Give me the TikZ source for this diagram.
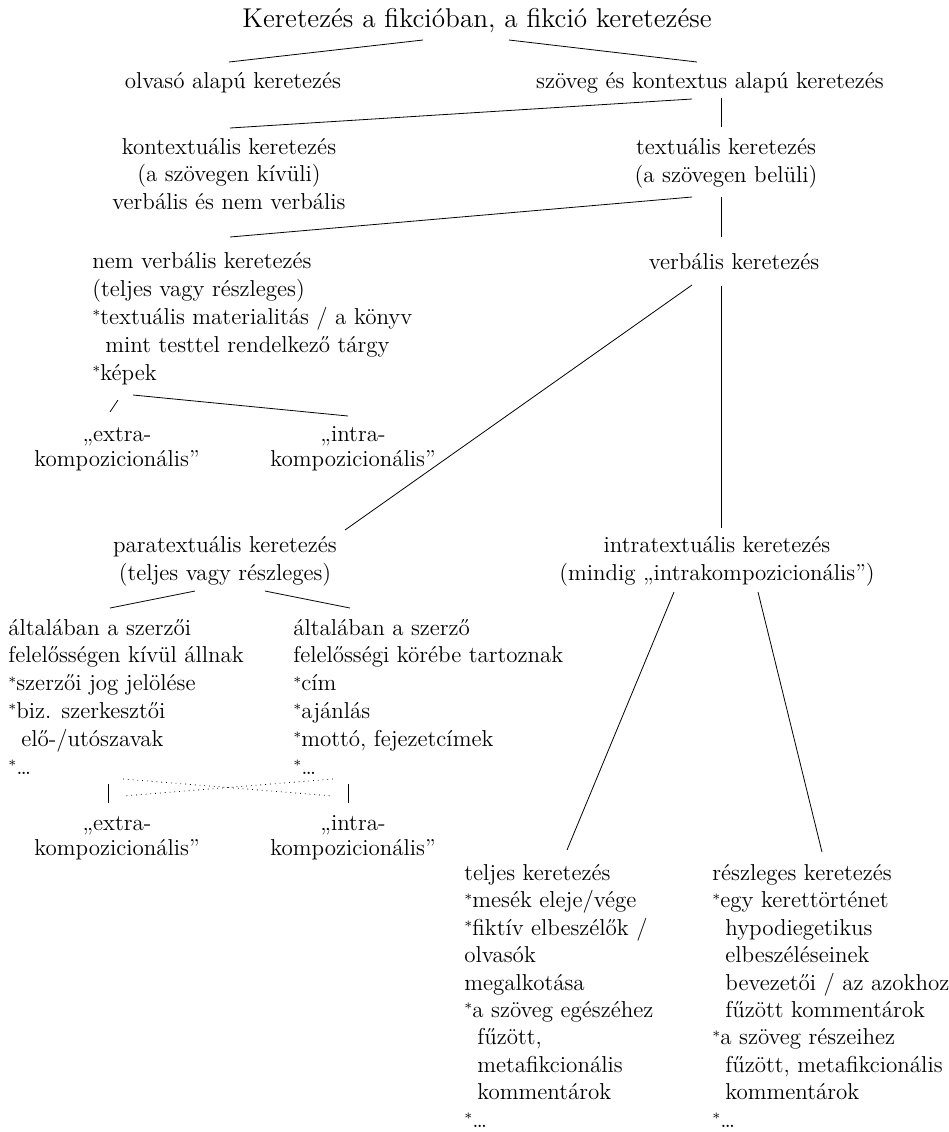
\documentclass[tikz,border=0pt]{standalone}
\usepackage{fontspec}
\usepackage{tikz}
\newcommand{\csill}{\raisebox{.35ex}{\scriptsize*}}
\newcommand{\behuz}{\hspace*{6.5pt}}
\tikzset{
  every node/.style={
    inner sep=0pt,
    font=\fontsize{11.5}{13.9}\selectfont
  },
  kozep/.style={align=center, anchor=base},
  bal/.style={align=left, anchor=base west},
  ketsor/.style={align=center, anchor=base, font=\fontsize{11.5}{12.4}\selectfont},
  hosszu/.style={bal, font=\fontsize{11.5}{13.7}\selectfont},
  line width=0.6pt
}

\begin{document}
\begin{tikzpicture}[x=0.5pt, y=-0.5pt]
    \useasboundingbox (0,0) rectangle (949,1132);

    \node[anchor=base, font=\fontsize{13.6}{16}\selectfont] (cim) at (477,27) {Keretezés a fikcióban, a fikció keretezése};
    \node[anchor=base] (olvaso) at (233,88) {olvasó alapú keretezés};
    \node[anchor=base] (szoveg) at (710,88) {szöveg és kontextus alapú keretezés};
    \node[kozep] (kontext) at (229,209.6) {kontextuális keretezés\\(a szövegen kívüli)\\verbális és nem verbális};
    \node[kozep] (textual) at (726,182) {textuális keretezés\\(a szövegen belüli)};
    \node[bal] (nemverb) at (92,380) {nem verbális keretezés\\(teljes vagy részleges)\\\csill textuális materialitás / a könyv\\\behuz mint testtel rendelkező tárgy\\\csill képek};
    \node[anchor=base] (verbalis) at (734,269) {verbális keretezés};
    \node[ketsor] (extraA) at (117,466) {„extra-\\kompozicionális”};
    \node[ketsor] (intraA) at (353,466) {„intra-\\kompozicionális”};
    \node[kozep] (para) at (225,580) {paratextuális keretezés\\(teljes vagy részleges)};
    \node[kozep] (intrat) at (717,580) {intratextuális keretezés\\(mindig „intrakompozicionális”)};
    \node[bal] (kivul) at (8,774) {általában a szerzői\\felelősségen kívül állnak\\\csill szerzői jog jelölése\\\csill biz. szerkesztői\\\behuz elő-/utószavak\\\csill\dots};
    \node[bal] (belul) at (293,774) {általában a szerző\\felelősségi körébe tartoznak\\\csill cím\\\csill ajánlás\\\csill mottó, fejezetcímek\\\csill\dots};
    \node[ketsor] (extraB) at (117,855) {„extra-\\kompozicionális”};
    \node[ketsor] (intraB) at (353,855) {„intra-\\kompozicionális”};
    \node[hosszu] (teljes) at (464,1127) {teljes keretezés\\\csill mesék eleje/vége\\\csill fiktív elbeszélők /\\olvasók\\megalkotása\\\csill a szöveg egészéhez\\\behuz fűzött,\\\behuz metafikcionális\\\behuz kommentárok\\\csill\dots};
    \node[hosszu] (reszl) at (712,1127) {részleges keretezés\\\csill egy kerettörténet\\\behuz hypodiegetikus\\\behuz elbeszéléseinek\\\behuz bevezetői / az azokhoz\\\behuz fűzött kommentárok\\\csill a szöveg részeihez\\\behuz fűzött, metafikcionális\\\behuz kommentárok\\\csill\dots};

    \draw ([shift={(-54,13)}]cim.base) -- ([shift={(-4,-26)}]olvaso.base);
    \draw ([shift={(32,13)}]cim.base) -- ([shift={(-13,-26)}]szoveg.base);
    \draw ([shift={(-18,11)}]szoveg.base) -- ([shift={(1,-81.6)}]kontext.base);
    \draw ([shift={(11,10)}]szoveg.base) -- ([shift={(-5,-55)}]textual.base);
    \draw ([shift={(-34,15)}]textual.base) -- ([shift={(138,-143)}]nemverb.base west);
    \draw ([shift={(-5,15)}]textual.base) -- ([shift={(-13,-32)}]verbalis.base);
    \draw ([shift={(-42,16)}]verbalis.base) -- ([shift={(120,-50)}]para.base);
    \draw ([shift={(-13,17)}]verbalis.base) -- ([shift={(4,-52)}]intrat.base);
    \draw ([shift={(26,20)}]nemverb.base west) -- ([shift={(-7,-54)}]extraA.base);
    \draw ([shift={(41,15)}]nemverb.base west) -- ([shift={(-5,-50)}]intraA.base);
    \draw ([shift={(-30,11)}]para.base) -- ([shift={(102,-166)}]kivul.base west);
    \draw ([shift={(40,11)}]para.base) -- ([shift={(57,-166)}]belul.base west);
    \draw ([shift={(100,10)}]kivul.base west) -- ([shift={(-9,-52)}]extraB.base);
    \draw ([shift={(55,10)}]belul.base west) -- ([shift={(-5,-52)}]intraB.base);
    \draw[dotted] ([shift={(115,5)}]kivul.base west) -- ([shift={(-20,-59)}]intraB.base);
    \draw[dotted] ([shift={(40,5)}]belul.base west) -- ([shift={(6,-59)}]extraB.base);
    \draw ([shift={(-43,12)}]intrat.base) -- ([shift={(103,-277)}]teljes.base west);
    \draw ([shift={(41,12)}]intrat.base) -- ([shift={(110,-275)}]reszl.base west);
\end{tikzpicture}
\end{document}
